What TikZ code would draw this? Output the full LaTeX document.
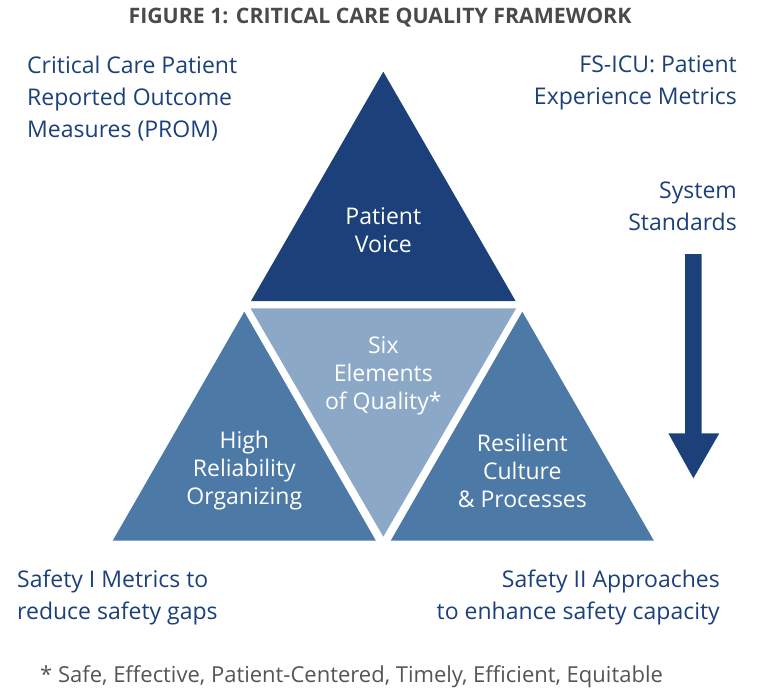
\documentclass[tikz,border=0pt]{standalone}
\usepackage{fontspec}
\setmainfont{Open Sans}
\definecolor{voiceblue}{HTML}{1C407A}
\definecolor{sideblue}{HTML}{4D79A6}
\definecolor{qualityblue}{HTML}{8BA9C6}
\definecolor{titlegray}{HTML}{4A4A4A}
\definecolor{notegray}{HTML}{555555}
\begin{document}
\begin{tikzpicture}[x = 1pt, y = -1pt,
    outer text/.style = {text = voiceblue, font = \fontsize{23}{32}\selectfont, inner sep = 0},
    inner text/.style = {text = white, font = \fontsize{23}{28}\selectfont, align = center, inner sep = 0}]
  \useasboundingbox (0, 0) rectangle (760, 689);
  \fill [voiceblue] (383.3, 71.7) -- (251, 301) -- (515.6, 301) -- cycle;
  \fill [qualityblue] (250.5, 308.3) -- (516.1, 308.3) -- (383.3, 536.7) -- cycle;
  \fill [sideblue] (244.3, 311.7) -- (112.7, 540.7) -- (375.9, 540.7) -- cycle;
  \fill [sideblue] (522.3, 311.7) -- (390.7, 540.7) -- (653.9, 540.7) -- cycle;
  \fill [voiceblue] (685, 254) -- (701.7, 254) -- (701.7, 433.3) -- (719.3, 433.3)
    -- (693.4, 478.3) -- (668.3, 433.3) -- (685, 433.3) -- cycle;
  \node (title) at (380, 18) [text = titlegray, font = \fontsize{21.3}{25}\selectfont\bfseries] {FIGURE 1: CRITICAL CARE QUALITY FRAMEWORK};
  \node (prom) at (27, 99) [outer text, anchor = west, align = left] {Critical Care Patient\\Reported Outcome\\Measures (PROM)};
  \node (fsicu) at (737, 83) [outer text, anchor = east, align = right] {FS-ICU: Patient\\Experience Metrics};
  \node (system) at (737, 206) [outer text, anchor = east, align = right] {System\\Standards};
  \node (voice) at (383.3, 230) [inner text] {Patient\\Voice};
  \node (quality) at (383.3, 376) [inner text] {Six\\Elements\\of Quality*};
  \node (reliability) at (244.3, 471) [inner text] {High\\Reliability\\Organizing};
  \node (resilient) at (522.3, 471) [inner text] {Resilient\\Culture\\\& Processes};
  \node (safetyone) at (17, 597) [outer text, anchor = west, align = left] {Safety I Metrics to\\reduce safety gaps};
  \node (safetytwo) at (720, 597) [outer text, anchor = east, align = right] {Safety II Approaches\\to enhance safety capacity};
  \node (note) at (40, 677) [text = notegray, font = \fontsize{22}{25}\selectfont, anchor = west, inner sep = 0] {* Safe, Effective, Patient-Centered, Timely, Efficient, Equitable};
\end{tikzpicture}
\end{document}
